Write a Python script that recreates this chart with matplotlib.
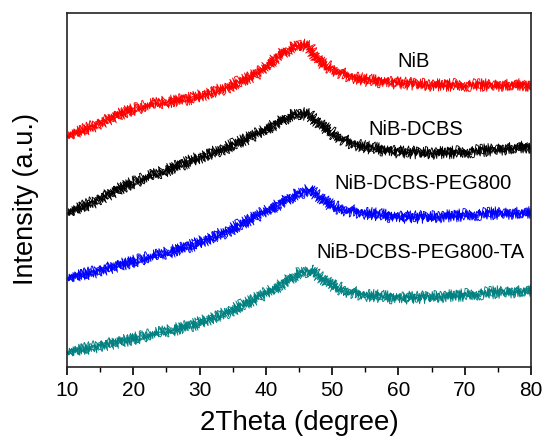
import matplotlib
matplotlib.use("Agg")
import matplotlib.pyplot as plt
from matplotlib.ticker import MultipleLocator

plt.rcParams['font.family'] = ['Liberation Sans', 'DejaVu Sans']

# 2Theta key positions (degree)
two_theta = [10, 14, 19, 24, 29, 34, 39, 42, 43.5, 45, 46.5, 48, 50, 52, 55, 60, 65, 70, 75, 80]

# Intensity (arbitrary units, stacked offsets as displayed)
nib = [231, 241, 256, 264, 269, 279, 294, 312, 318, 323, 320, 306, 298, 292, 287, 284, 282, 282, 282, 282]
nib_dcbs = [154, 165, 182, 194, 207, 219, 234, 245, 251, 254, 252, 244, 234, 226, 220, 215, 214, 215, 218, 220]
nib_dcbs_peg = [89, 95, 104, 112, 122, 135, 152, 163, 169, 174, 177, 171, 161, 157, 154, 150, 150, 152, 154, 154]
nib_dcbs_peg_ta = [15, 20, 27, 34, 42, 54, 70, 81, 88, 94, 97, 91, 82, 76, 72, 69, 70, 72, 75, 76]

series_names = ["NiB", "NiB-DCBS", "NiB-DCBS-PEG800", "NiB-DCBS-PEG800-TA"]
series_values = [nib, nib_dcbs, nib_dcbs_peg, nib_dcbs_peg_ta]
series_colors = ["#ff0000", "#000000", "#0000ff", "#008080"]
label_pos = [(62.3, 306), (62.6, 238), (63.7, 184), (63.3, 115)]

# noise-like rendering styles (sketch: scale, length, randomness)
sketch_styles = [(6.5, 0.4, 6), (5.0, 0.3, 8), (4.0, 0.5, 5), (3.0, 0.35, 7), (2.0, 0.45, 6)]

fig = plt.figure(figsize=(5.43, 4.41), dpi=100)
ax = fig.add_axes([0.1234, 0.1678, 0.8545, 0.8027])

for name, vals, col, (lx, ly) in zip(series_names, series_values, series_colors, label_pos):
    for sc, ln, rd in sketch_styles:
        line, = ax.plot(two_theta, vals, color=col, lw=0.65)
        line.set_sketch_params(scale=sc, length=ln, randomness=rd)
    ax.text(lx, ly, name, ha='center', va='center', fontsize=14.5, color='black')

ax.set_xlim(10, 80)
ax.set_ylim(0, 354)
ax.xaxis.set_major_locator(MultipleLocator(10))
ax.xaxis.set_minor_locator(MultipleLocator(5))
ax.set_yticks([])
ax.tick_params(axis='x', which='major', direction='out', length=6, width=1.2, labelsize=15, pad=4)
ax.tick_params(axis='x', which='minor', direction='out', length=3.5, width=1.0)
for s in ax.spines.values():
    s.set_linewidth(1.2)
    s.set_color('#222222')

ax.set_xlabel("2Theta (degree)", fontsize=20)
ax.xaxis.set_label_coords(0.5, -0.122)
ax.set_ylabel("Intensity (a.u.)", fontsize=19.5)
ax.yaxis.set_label_coords(-0.06, 0.475)

fig.savefig("out.png", dpi=100)
